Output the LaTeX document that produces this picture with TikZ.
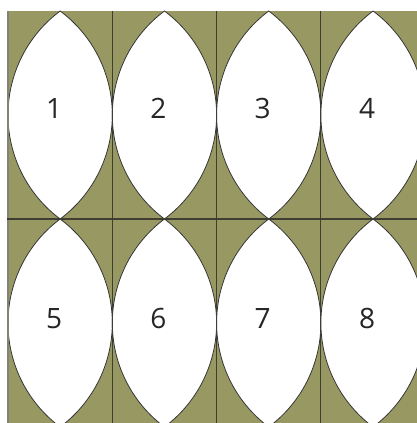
\documentclass[tikz,border=0pt]{standalone}
\usepackage{fontspec}
\setmainfont{Open Sans}
\definecolor{olive}{RGB}{152,153,98}
\definecolor{gridline}{RGB}{62,62,50}
\definecolor{leftline}{RGB}{130,130,120}
\begin{document}
\begin{tikzpicture}[x=1pt,y=1pt,
  lens/.style={fill=white,draw=black!80,line width=0.8pt},
  gridl/.style={draw=gridline,line width=1.1pt},
  num/.style={font=\fontsize{28}{30}\selectfont,text=black!85,anchor=base,inner sep=0pt}]
\useasboundingbox (0,0) rectangle (417,423);
\begin{scope}
\clip (0,0) rectangle (417,423);
\fill[olive] (8,-4) rectangle (425.3,412);
\foreach \j in {0,1}{
  \foreach \i in {0,1,2,3}{
    \pgfmathsetmacro{\cx}{8+104.3*(\i+0.5)}
    \pgfmathsetmacro{\ty}{412-208*\j}
    \draw[lens] (\cx,\ty) arc[start angle=126.73,end angle=233.27,radius=129.77]
      arc[start angle=-53.27,end angle=53.27,radius=129.77] -- cycle;
  }
}
\coordinate (L0) at (8,412);
\coordinate (L1) at (8,-4);
\draw[draw=leftline,line width=1.1pt] (L0) -- (L1);
\foreach \x in {112.3,216.6,320.9}{
  \draw[gridl] (\x,412) -- (\x,-4);
}
\coordinate (H0) at (7,204);
\coordinate (H1) at (417,204);
\draw[gridl] (H0) -- (H1);
\end{scope}
\foreach \j/\by in {0/304,1/94}{
  \foreach \i in {0,1,2,3}{
    \pgfmathtruncatemacro{\n}{\j*4+\i+1}
    \pgfmathsetmacro{\cx}{8+104.3*(\i+0.5)-6}
    \node[num] (n\n) at (\cx,\by) {\n};
  }
}
\end{tikzpicture}
\end{document}
